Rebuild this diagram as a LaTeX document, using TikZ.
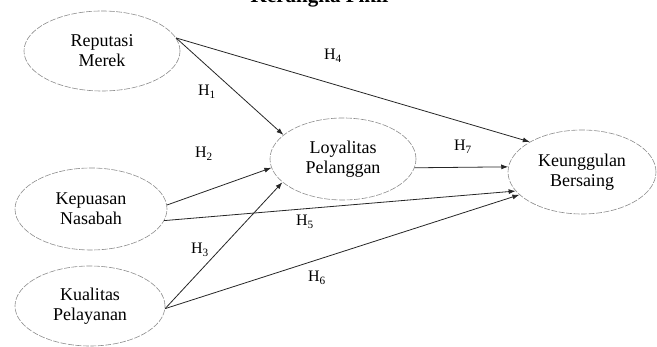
\documentclass[tikz,border=0pt]{standalone}
\usepackage{fontspec}
\setmainfont{Liberation Serif}
\usetikzlibrary{arrows.meta,shapes.geometric}

\begin{document}
\begin{tikzpicture}[x=1pt,y=-1pt,>={Latex[length=7pt,width=5pt]},
    every node/.style={align=center,inner sep=0pt},
    latent/.style={ellipse,draw=black!45,dash pattern=on 6pt off 1.5pt,line width=0.6pt,minimum width=150pt,minimum height=81pt,font=\fontsize{18}{20}\selectfont},
    hyp/.style={font=\fontsize{16}{18}\selectfont},
    link/.style={->,draw=black!85,line width=0.8pt}]
    \useasboundingbox (0,0) rectangle (657,347);
    \node[font=\bfseries\fontsize{21}{23}\selectfont,anchor=base] (ttl) at (321,3) {Kerangka Pikir};
    % latent variables
    \node[latent,minimum width=156pt,minimum height=80pt] (rm) at (102,51) {Reputasi\\Merek};
    \node[latent,minimum width=152pt,minimum height=82pt] (kn) at (91,209) {Kepuasan\\Nasabah};
    \node[latent,minimum width=150pt,minimum height=80pt] (kp) at (90,306) {Kualitas\\Pelayanan};
    \node[latent,minimum width=146pt,minimum height=82pt] (lp) at (343,159) {Loyalitas\\Pelanggan};
    \node[latent,minimum width=148pt,minimum height=84pt] (kb) at (582,172) {Keunggulan\\Bersaing};
    % hypotheses
    \draw[link] (rm.10) -- (lp.158);
    \draw[link] (rm.10) -- (kb.150);
    \draw[link] (kn.3) -- (lp.187);
    \draw[link] (kn.-9) -- (kb.196);
    \draw[link] (kp.-2) -- (lp.201);
    \draw[link] (kp.-2) -- (kb.200);
    \draw[link] (lp.-7) -- (kb.176);
    \node[hyp] (h1) at (207,92) {H\textsubscript{1}};
    \node[hyp] (h2) at (204,154) {H\textsubscript{2}};
    \node[hyp] (h3) at (200,250) {H\textsubscript{3}};
    \node[hyp] (h4) at (333,56) {H\textsubscript{4}};
    \node[hyp] (h5) at (305,222) {H\textsubscript{5}};
    \node[hyp] (h6) at (317,278) {H\textsubscript{6}};
    \node[hyp] (h7) at (463,147) {H\textsubscript{7}};
\end{tikzpicture}
\end{document}
